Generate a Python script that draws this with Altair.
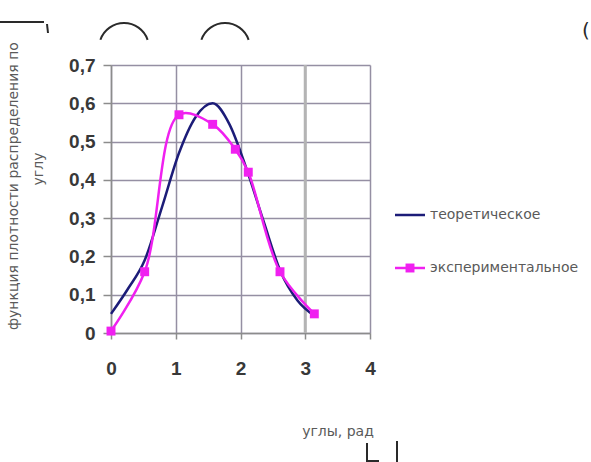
import altair as alt
import pandas as pd

# Theoretical angular density, sampled every π/12
theory_angle = [0.0, 0.26, 0.52, 0.79, 1.05, 1.31, 1.57, 1.83, 2.09, 2.36, 2.62, 2.88, 3.14]
theory_density = [0.05, 0.115, 0.19, 0.33, 0.47, 0.565, 0.60, 0.545, 0.43, 0.29, 0.16, 0.085, 0.045]

# Measured density
exp_angle = [0.0, 0.52, 1.05, 1.57, 1.92, 2.12, 2.61, 3.14]
exp_density = [0.005, 0.16, 0.57, 0.545, 0.48, 0.42, 0.16, 0.05]

series_names = ["теоретическое", "экспериментальное"]
series_colors = ["#1c1c78", "#f020f0"]

x_ticks = [0, 1, 2, 3, 4]
y_ticks = [0, 0.1, 0.2, 0.3, 0.4, 0.5, 0.6, 0.7]

y_title_lines = ["функция плотности распределения по", "углу"]
x_title = "углы, рад"

W, H = 259, 268
GRID = "#958fa3"
AXIS = "#8c8c8c"
LABEL = "#383838"

theory_df = pd.DataFrame({"angle": theory_angle, "density": theory_density,
                          "series": series_names[0]})
exp_df = pd.DataFrame({"angle": exp_angle, "density": exp_density,
                       "series": series_names[1]})

color = alt.Color("series:N",
                  scale=alt.Scale(domain=series_names, range=series_colors),
                  legend=None)

x_enc = alt.X("angle:Q", scale=alt.Scale(domain=[0, 4], nice=False),
              axis=alt.Axis(values=x_ticks, format="d", grid=True, gridColor=GRID,
                            gridWidth=1.5, domainColor=AXIS, domainWidth=1.5,
                            tickColor=AXIS, tickWidth=1.5, tickSize=6,
                            labelFont="Liberation Sans", labelFontSize=19,
                            labelFontWeight="bold", labelColor=LABEL, labelPadding=20,
                            labelFlush=False, title=None))
y_enc = alt.Y("density:Q", scale=alt.Scale(domain=[0, 0.7], nice=False),
              axis=alt.Axis(values=y_ticks, grid=True, gridColor=GRID, gridWidth=1.5,
                            domainColor=AXIS, domainWidth=1.5, tickColor=AXIS,
                            tickWidth=1.5, tickSize=8, labelFont="Liberation Sans",
                            labelFontSize=19, labelFontWeight="bold", labelColor=LABEL,
                            labelPadding=8, labelFlush=False,
                            labelExpr="datum.value == 0 ? '0' : replace(format(datum.value, '.1f'), '.', ',')",
                            title=None))

# heavier grey line at angle 3
marker_rule = alt.Chart(pd.DataFrame({"a": [3]})).mark_rule(
    color="#b4b4b4", strokeWidth=3).encode(
    x=alt.X("a:Q", scale=alt.Scale(domain=[0, 4], nice=False)))

theory_line = alt.Chart(theory_df).mark_line(
    strokeWidth=2.5, interpolate="monotone").encode(x=x_enc, y=y_enc, color=color)
exp_line = alt.Chart(exp_df).mark_line(
    strokeWidth=2.5, interpolate="catmull-rom").encode(x=x_enc, y=y_enc, color=color)
exp_points = alt.Chart(exp_df).mark_square(size=80, opacity=1).encode(
    x=x_enc, y=y_enc, color=color)

main = alt.layer(marker_rule, theory_line, exp_line, exp_points)

# legend built from the series list
legend_df = pd.DataFrame({"series": series_names})
ly = alt.Y("series:N", axis=None,
           scale=alt.Scale(type="point", domain=series_names, range=[150, 203], padding=0))
legend_lines = alt.Chart(legend_df).mark_rule(strokeWidth=2.5).encode(
    x=alt.value(284), x2=alt.value(314), y=ly, color=color)
legend_marker = alt.Chart(legend_df).transform_filter(
    alt.datum.series == series_names[1]).mark_square(size=80, opacity=1).encode(
    x=alt.value(299), y=ly, color=color)
legend_text = alt.Chart(legend_df).mark_text(
    align="left", baseline="middle", font="DejaVu Sans", fontSize=14, color="#5a5a5a").encode(
    x=alt.value(319), y=ly, text="series:N")
legend = alt.layer(legend_lines, legend_marker, legend_text)

# axis titles and stray pen strokes around the plot
one = pd.DataFrame({"k": [0]})
title_style = dict(font="DejaVu Sans", fontSize=14, color="#5a5a5a")
y_title1 = alt.Chart(one).mark_text(angle=270, baseline="middle", **title_style).encode(
    x=alt.value(-97), y=alt.value(121), text=alt.value(y_title_lines[0]))
y_title2 = alt.Chart(one).mark_text(angle=270, baseline="middle", **title_style).encode(
    x=alt.value(-72), y=alt.value(104), text=alt.value(y_title_lines[1]))
x_title_t = alt.Chart(one).mark_text(baseline="middle", **title_style).encode(
    x=alt.value(227), y=alt.value(367), text=alt.value(x_title))

ink = "#2a2a2a"
strokes = [
    alt.Chart(one).mark_rule(color=ink, strokeWidth=2).encode(
        x=alt.value(-111), x2=alt.value(-67), y=alt.value(-43), y2=alt.value(-43)),
    alt.Chart(one).mark_rule(color=ink, strokeWidth=2).encode(
        x=alt.value(-64), x2=alt.value(-63), y=alt.value(-41), y2=alt.value(-32)),
    alt.Chart(one).mark_rule(color=ink, strokeWidth=2).encode(
        x=alt.value(256), x2=alt.value(256), y=alt.value(378), y2=alt.value(397)),
    alt.Chart(one).mark_rule(color=ink, strokeWidth=2).encode(
        x=alt.value(256), x2=alt.value(268), y=alt.value(396), y2=alt.value(396)),
    alt.Chart(one).mark_rule(color=ink, strokeWidth=2).encode(
        x=alt.value(286), x2=alt.value(286), y=alt.value(376), y2=alt.value(397)),
    alt.Chart(one).mark_arc(color=ink, theta=5.05, theta2=7.52, radius=26, radius2=24).encode(
        x=alt.value(13), y=alt.value(-17)),
    alt.Chart(one).mark_arc(color=ink, theta=5.05, theta2=7.52, radius=26, radius2=24).encode(
        x=alt.value(114), y=alt.value(-17)),
    alt.Chart(one).mark_text(font="DejaVu Sans", fontSize=20, color=ink, align="left",
                             baseline="middle").encode(
        x=alt.value(471), y=alt.value(-34), text=alt.value("(")),
]

chart = alt.layer(main, legend, y_title1, y_title2, x_title_t, *strokes).resolve_scale(
    y="independent"
).properties(
    width=W, height=H,
    autosize=alt.AutoSizeParams(type="none"),
    padding={"left": 111, "top": 65, "right": 221, "bottom": 129},
    background="white",
).configure_view(stroke=None)

chart.save("out.html", embed_options={"renderer": "svg", "actions": False})
